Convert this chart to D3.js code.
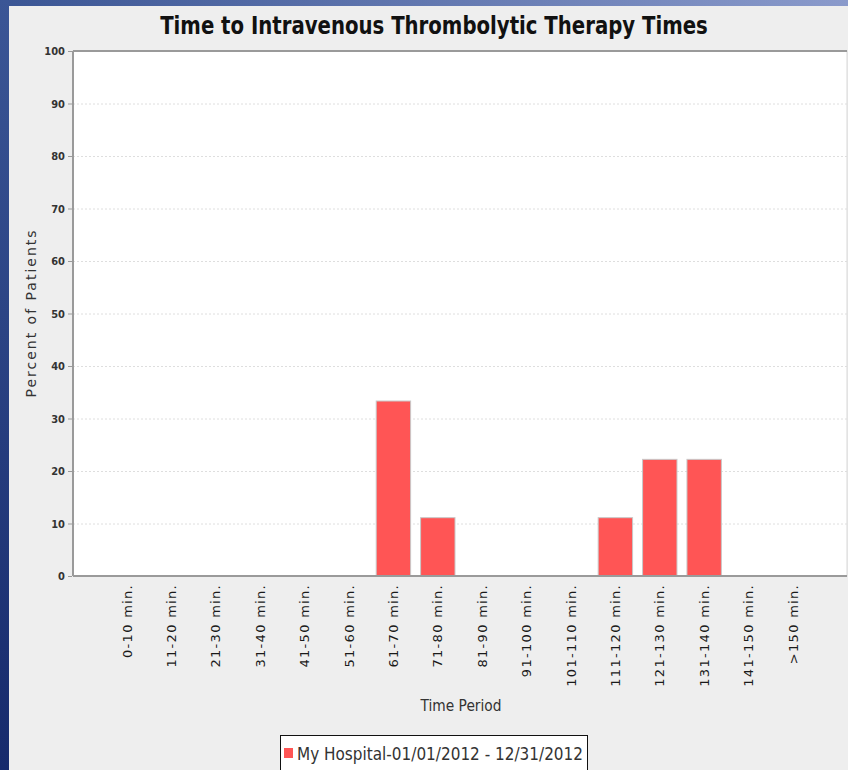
<!DOCTYPE html>
<html>
<head>
<meta charset="utf-8">
<script src="https://d3js.org/d3.v7.min.js"></script>
<style>
  body { margin: 0; padding: 0; background: #eeeeee; }
  svg { display: block; }
</style>
</head>
<body>
<div id="grafico"></div>
<script>
// datos del grafico
var categorias = ["0-10 min.", "11-20 min.", "21-30 min.", "31-40 min.", "41-50 min.", "51-60 min.",
  "61-70 min.", "71-80 min.", "81-90 min.", "91-100 min.", "101-110 min.", "111-120 min.",
  "121-130 min.", "131-140 min.", "141-150 min.", ">150 min."];
var porcentajes = [0, 0, 0, 0, 0, 0, 33.33, 11.11, 0, 0, 0, 11.11, 22.22, 22.22, 0, 0];
var ticksY = [0, 10, 20, 30, 40, 50, 60, 70, 80, 90, 100];
var serie = "My Hospital-01/01/2012 - 12/31/2012";

var width = 848, height = 770;
var pLeft = 73, pRight = 847, pTop = 51, pBottom = 576;

var svg = d3.select("#grafico").append("svg")
  .attr("width", width)
  .attr("height", height);

// fondo azul
var defs = svg.append("defs");
var gTop = defs.append("linearGradient").attr("id", "gtop");
gTop.append("stop").attr("offset", "0%").attr("stop-color", "#3a5594");
gTop.append("stop").attr("offset", "100%").attr("stop-color", "#8a9acb");
var gLeft = defs.append("linearGradient").attr("id", "gleft")
  .attr("x1", 0).attr("y1", 0).attr("x2", 0).attr("y2", 1);
gLeft.append("stop").attr("offset", "0%").attr("stop-color", "#3b5696");
gLeft.append("stop").attr("offset", "100%").attr("stop-color", "#162a6c");

svg.append("rect").attr("x", 0).attr("y", 0).attr("width", width).attr("height", 6).attr("fill", "url(#gtop)");
svg.append("rect").attr("x", 0).attr("y", 0).attr("width", 9).attr("height", height).attr("fill", "url(#gleft)");
svg.append("rect").attr("x", 9).attr("y", 6).attr("width", width - 9).attr("height", height - 6).attr("fill", "#eeeeee");

// area del grafico
svg.append("rect")
  .attr("x", pLeft).attr("y", pTop)
  .attr("width", pRight - pLeft).attr("height", pBottom - pTop)
  .attr("fill", "#ffffff")
  .attr("stroke", "#d8d8d8");

// escalas
var x = d3.scaleBand()
  .domain(categorias)
  .range([pLeft, pRight])
  .paddingInner(0.225)
  .paddingOuter(0.83);

var y = d3.scaleLinear()
  .domain([0, 100])
  .range([pBottom, pTop]);

// lineas de la cuadricula
svg.append("g")
  .selectAll("line")
  .data(ticksY.filter(function(d) { return d > 0 && d < 100; }))
  .enter()
  .append("line")
  .attr("x1", pLeft).attr("x2", pRight)
  .attr("y1", function(d) { return y(d) + 0.5; })
  .attr("y2", function(d) { return y(d) + 0.5; })
  .attr("stroke", "#dedede")
  .attr("stroke-dasharray", "2,2");

// barras
svg.append("g")
  .selectAll("rect")
  .data(porcentajes)
  .enter()
  .append("rect")
  .attr("x", function(d, i) { return x(categorias[i]); })
  .attr("y", function(d) { return y(d); })
  .attr("width", x.bandwidth())
  .attr("height", function(d) { return pBottom - y(d); })
  .attr("fill", function(d) { return d > 0 ? "#ff5555" : "none"; })
  .attr("stroke", function(d) { return d > 0 ? "#c8c8c8" : "none"; })
  .attr("stroke-width", 1);

// bordes
svg.append("line").attr("x1", pLeft).attr("x2", pRight).attr("y1", pTop).attr("y2", pTop)
  .attr("stroke", "#9a9a9a").attr("stroke-width", 2);
svg.append("line").attr("x1", pLeft).attr("x2", pLeft).attr("y1", pTop).attr("y2", pBottom)
  .attr("stroke", "#9a9a9a").attr("stroke-width", 2);
svg.append("line").attr("x1", pLeft).attr("x2", pRight).attr("y1", pBottom).attr("y2", pBottom)
  .attr("stroke", "#9a9a9a").attr("stroke-width", 2);

// eje Y
var ejeY = svg.append("g")
  .attr("transform", "translate(" + (pLeft - 1) + ",0)")
  .call(d3.axisLeft(y).tickValues(ticksY).tickSize(4).tickPadding(3));
ejeY.select(".domain").remove();
ejeY.selectAll("line").attr("stroke", "#9a9a9a");
ejeY.selectAll("text")
  .attr("fill", "#333")
  .style("font-family", "'DejaVu Sans Condensed', 'DejaVu Sans', sans-serif")
  .style("font-weight", "bold")
  .style("font-size", "11px");

// eje X
var ejeX = svg.append("g")
  .attr("transform", "translate(0," + (pBottom + 1) + ")")
  .call(d3.axisBottom(x).tickSize(0));
ejeX.select(".domain").remove();
ejeX.selectAll("text")
  .attr("transform", "rotate(-90)")
  .attr("x", -7)
  .attr("y", 0)
  .attr("dy", "0.35em")
  .attr("text-anchor", "end")
  .attr("fill", "#1a1a1a")
  .style("font-family", "'DejaVu Sans', sans-serif")
  .style("font-size", "13px")
  .style("letter-spacing", "1.3px");

// titulo (estrechado para que mida como el original)
var titulo = svg.append("text")
  .attr("text-anchor", "middle")
  .style("font-family", "'DejaVu Sans', sans-serif")
  .style("font-weight", "bold")
  .style("font-size", "25px")
  .attr("fill", "#111")
  .text("Time to Intravenous Thrombolytic Therapy Times");
var anchoTitulo = titulo.node().getComputedTextLength();
titulo.attr("transform", "translate(434,34) scale(" + (548 / anchoTitulo) + ",1)");

svg.append("text")
  .attr("transform", "translate(36,313) rotate(-90)")
  .attr("text-anchor", "middle")
  .style("font-family", "'DejaVu Sans', sans-serif")
  .style("font-size", "14px")
  .style("letter-spacing", "2px")
  .attr("fill", "#333")
  .text("Percent of Patients");

svg.append("text")
  .attr("x", 461).attr("y", 711)
  .attr("text-anchor", "middle")
  .attr("textLength", 81)
  .attr("lengthAdjust", "spacingAndGlyphs")
  .style("font-family", "'DejaVu Sans', sans-serif")
  .style("font-size", "15px")
  .attr("fill", "#333")
  .text("Time Period");

// leyenda
svg.append("rect")
  .attr("x", 280.5).attr("y", 735.5)
  .attr("width", 307).attr("height", 45)
  .attr("fill", "#ffffff")
  .attr("stroke", "#111");
svg.append("rect")
  .attr("x", 284).attr("y", 748)
  .attr("width", 9).attr("height", 10)
  .attr("fill", "#ff5555");
svg.append("text")
  .attr("x", 297).attr("y", 760)
  .attr("textLength", 286)
  .attr("lengthAdjust", "spacingAndGlyphs")
  .style("font-family", "'DejaVu Sans', sans-serif")
  .style("font-size", "17px")
  .attr("fill", "#333")
  .text(serie);
</script>
</body>
</html>
